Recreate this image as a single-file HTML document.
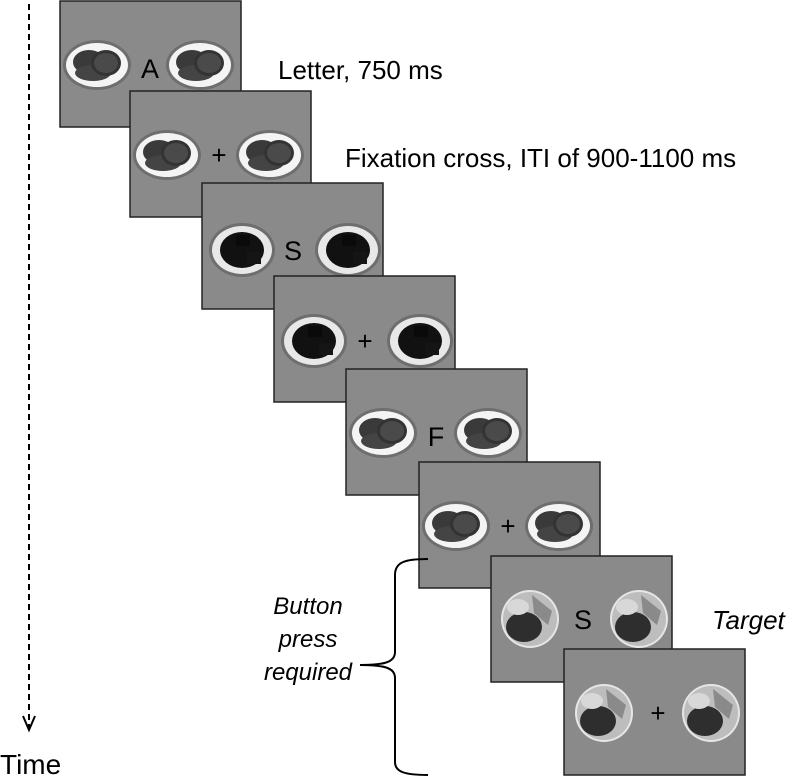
<!DOCTYPE html>
<html><head><meta charset="utf-8"><style>
html,body{margin:0;padding:0;background:#fff;}
svg{display:block;font-family:"Liberation Sans",Arial,sans-serif;}
</style></head><body>
<svg width="791" height="779" viewBox="0 0 791 779" xmlns="http://www.w3.org/2000/svg">
<defs>
<g id="burger">
 <ellipse rx="34" ry="25" fill="#6e6e6e"/>
 <ellipse rx="31" ry="22" fill="#f4f4f4"/>
 <ellipse cx="-8" cy="-3" rx="16" ry="12" fill="#3a3a3a"/>
 <ellipse cx="-4" cy="8" rx="18" ry="8" fill="#444"/>
 <ellipse cx="9" cy="-2" rx="15" ry="13" fill="#333"/>
 <ellipse cx="9" cy="-2" rx="12" ry="10" fill="#4a4a4a"/>
</g>
<g id="choc">
 <ellipse rx="33" ry="27" fill="#6e6e6e"/>
 <ellipse rx="30" ry="24" fill="#e8e8e8"/>
 <ellipse rx="22" ry="18" fill="#111"/>
 <rect x="-6" y="-15" width="14" height="11" fill="#0a0a0a"/>
 <rect x="5" y="2" width="14" height="12" fill="#151515"/>
</g>
<g id="meal">
 <circle r="29" fill="#e6e6e6"/>
 <circle r="27" fill="#bdbdbd"/>
 <ellipse cx="-6" cy="8" rx="18" ry="15" fill="#2e2e2e"/>
 <path d="M2,-24 L22,-8 L18,6 L4,-6 Z" fill="#8a8a8a"/>
 <ellipse cx="-12" cy="-12" rx="11" ry="8" fill="#d8d8d8"/>
</g>
<rect id="pan" width="181" height="126" fill="#8a8a8a" stroke="#222" stroke-width="1.5"/>
</defs>

<line x1="29" y1="4" x2="29" y2="728" stroke="#000" stroke-width="2" stroke-dasharray="6,4"/>
<polyline points="23,716 29,730 35,716" fill="none" stroke="#000" stroke-width="2"/>
<text x="0" y="774" font-size="28">Time</text>

<g transform="translate(60,1)"><use href="#pan"/><use href="#burger" x="37" y="64"/><use href="#burger" x="140" y="64"/><text x="90" y="77" font-size="27" text-anchor="middle">A</text></g>
<g transform="translate(130,91)"><use href="#pan"/><use href="#burger" x="37" y="64"/><use href="#burger" x="140" y="64"/><text x="89" y="73" font-size="26" text-anchor="middle">+</text></g>
<g transform="translate(202,183)"><use href="#pan"/><use href="#choc" x="40" y="67"/><use href="#choc" x="146" y="67"/><text x="91" y="77" font-size="27" text-anchor="middle">S</text></g>
<g transform="translate(274,276)"><use href="#pan"/><use href="#choc" x="40" y="65"/><use href="#choc" x="146" y="65"/><text x="91" y="74" font-size="26" text-anchor="middle">+</text></g>
<g transform="translate(346,369)"><use href="#pan"/><use href="#burger" x="37" y="64"/><use href="#burger" x="142" y="64"/><text x="90" y="77" font-size="27" text-anchor="middle">F</text></g>
<g transform="translate(419,462)"><use href="#pan"/><use href="#burger" x="37" y="64"/><use href="#burger" x="140" y="64"/><text x="89" y="73" font-size="26" text-anchor="middle">+</text></g>
<g transform="translate(491,556)"><use href="#pan"/><use href="#meal" x="39" y="63"/><use href="#meal" x="148" y="63"/><text x="92" y="73" font-size="27" text-anchor="middle">S</text></g>
<g transform="translate(564,649)"><use href="#pan"/><use href="#meal" x="40" y="64"/><use href="#meal" x="147" y="64"/><text x="94" y="73" font-size="26" text-anchor="middle">+</text></g>

<text x="278" y="79" font-size="26">Letter, 750 ms</text>
<text x="345" y="167" font-size="26">Fixation cross, ITI of 900-1100 ms</text>
<text x="712" y="629" font-size="26" font-style="italic">Target</text>

<path d="M428,559 C405,559 395,562 395,575 L395,652 C395,662 385,665 360,665 C385,665 395,668 395,678 L395,762 C395,772 405,775 428,775" fill="none" stroke="#000" stroke-width="2"/>
<g font-size="24" font-style="italic" text-anchor="middle">
<text x="308" y="614">Button</text>
<text x="308" y="647">press</text>
<text x="308" y="680">required</text>
</g>
</svg>
</body></html>
